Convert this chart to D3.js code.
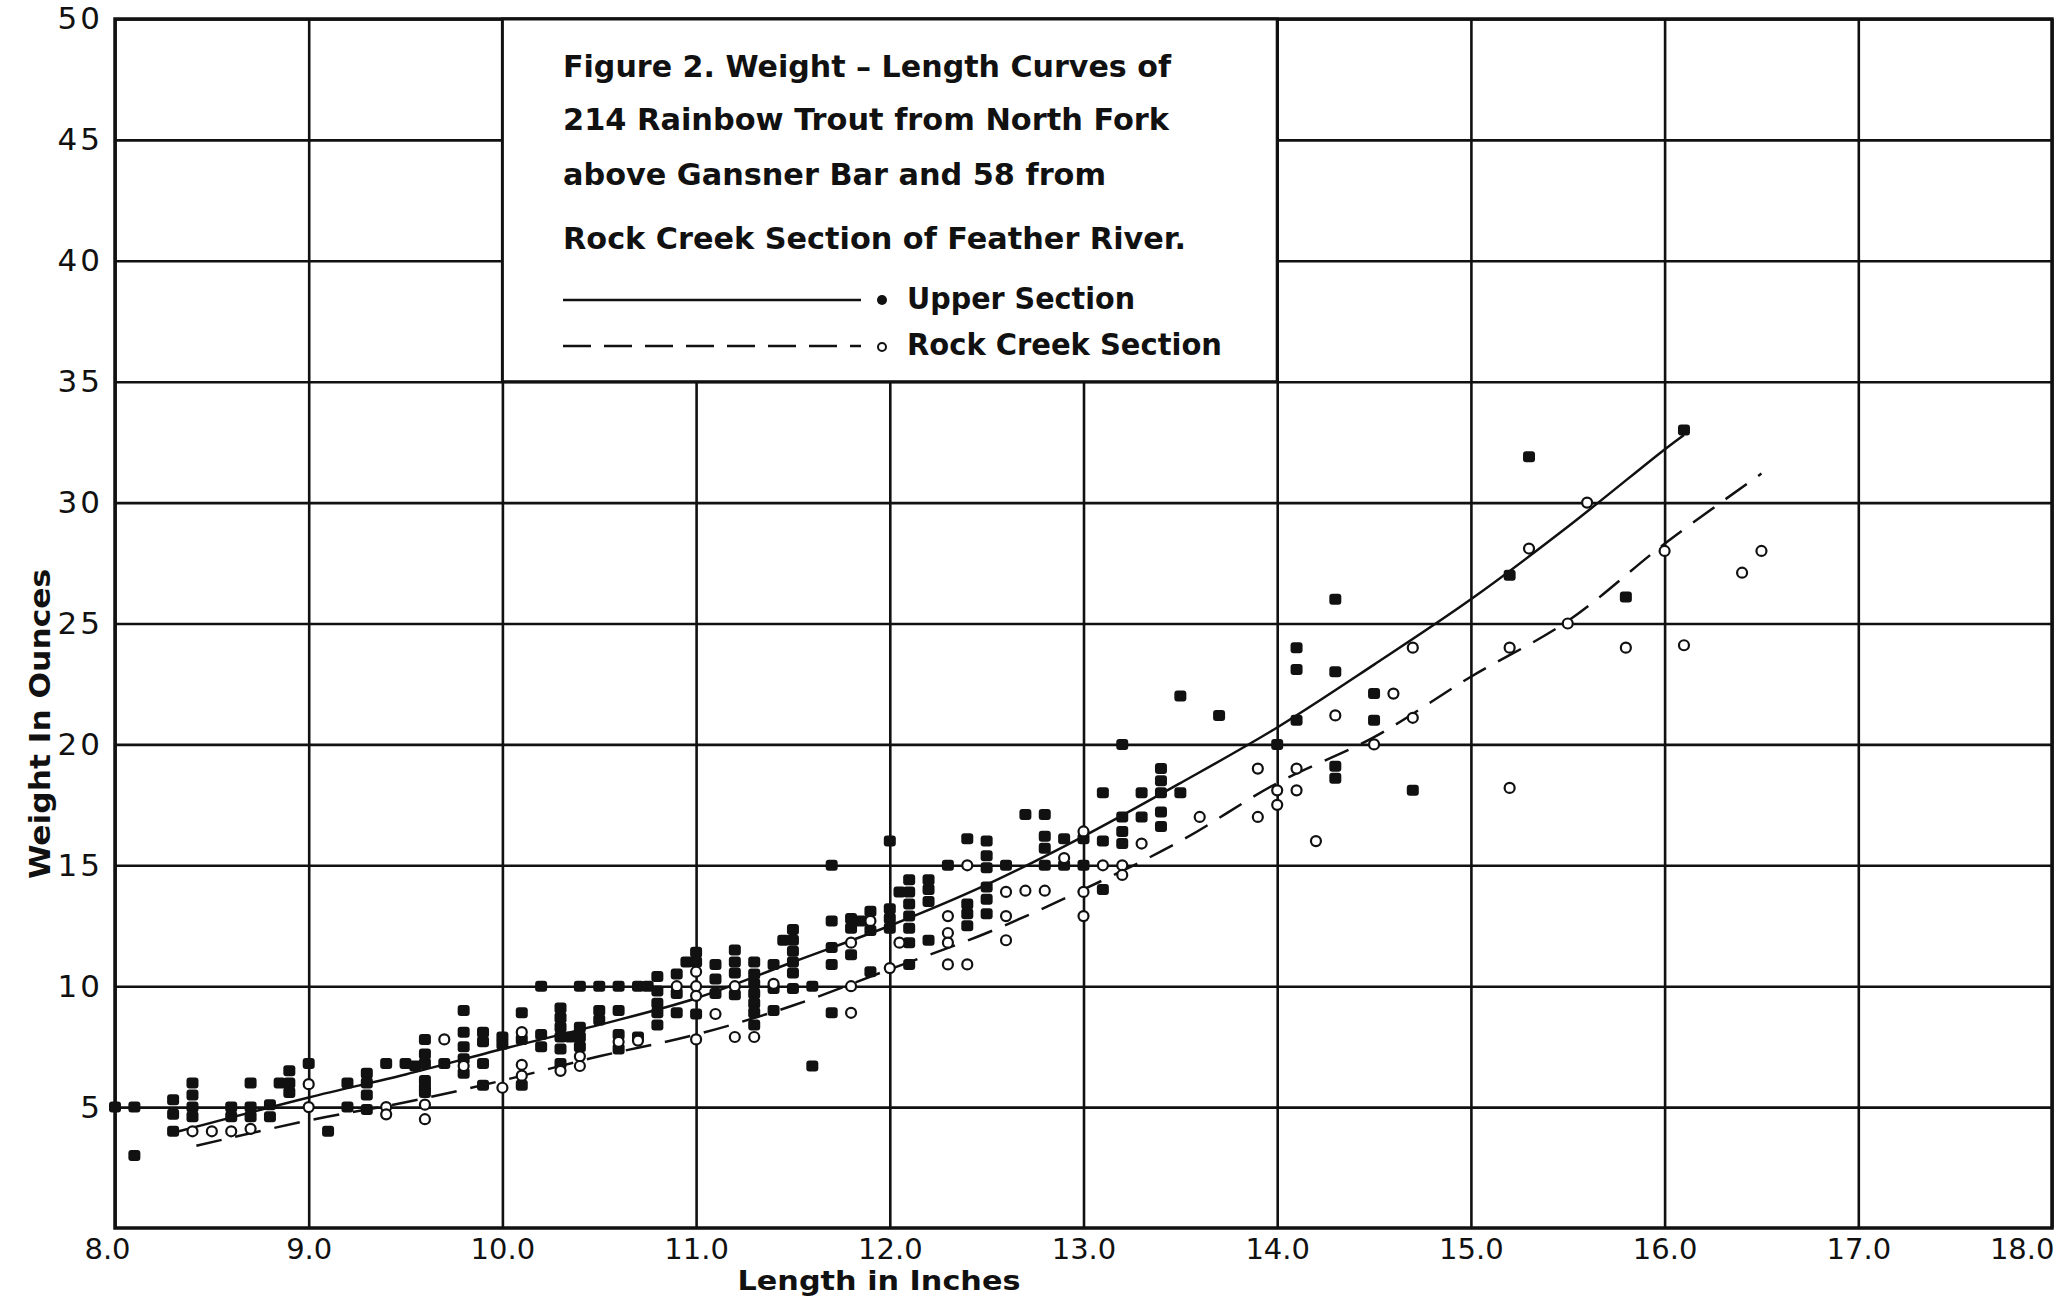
<!DOCTYPE html>
<html>
<head>
<meta charset="utf-8">
<script src="https://cdn.jsdelivr.net/npm/d3@7"></script>
<style>
  body { margin: 0; background: #fff; }
  text { font-family: "DejaVu Sans", sans-serif; fill: #111; }
</style>
</head>
<body>
<div id="container"></div>
<script>
let w = 2072;
let h = 1299;

// axis ticks
let xTicks = [8, 9, 10, 11, 12, 13, 14, 15, 16, 17, 18];
let yTicks = [5, 10, 15, 20, 25, 30, 35, 40, 45, 50];

let titleLines = [
  "Figure 2.  Weight – Length Curves of",
  "214  Rainbow  Trout  from  North  Fork",
  "above  Gansner  Bar  and  58  from",
  "Rock  Creek  Section  of  Feather  River."
];
let legendLabels = ["Upper  Section", "Rock  Creek  Section"];

// [length in inches, weight in ounces]
let upperSection = [
  [8.0,5.0],[8.1,5.0],[8.1,3.0],[8.3,5.3],[8.3,4.7],[8.3,4.0],
  [8.4,6.0],[8.4,5.5],[8.4,5.0],[8.4,4.6],[8.6,5.0],[8.6,4.6],
  [8.7,6.0],[8.7,5.0],[8.7,4.6],[8.8,5.1],[8.8,4.6],[8.85,6.0],
  [8.9,6.0],[8.9,6.5],[8.9,5.6],[9.0,6.8],[9.1,4.0],[9.2,6.0],
  [9.2,5.0],[9.3,6.4],[9.3,6.0],[9.3,5.5],[9.3,4.9],[9.4,6.8],
  [9.5,6.8],[9.55,6.7],[9.6,7.8],[9.6,7.2],[9.6,6.8],[9.6,6.1],
  [9.6,5.8],[9.6,5.6],[9.7,6.8],[9.8,9.0],[9.8,8.1],[9.8,7.5],
  [9.8,7.0],[9.8,6.4],[9.9,8.1],[9.9,7.7],[9.9,6.8],[9.9,5.9],
  [10.0,7.9],[10.0,7.6],[10.1,8.9],[10.1,7.8],[10.1,5.9],[10.2,10.0],
  [10.2,8.0],[10.2,7.5],[10.3,9.1],[10.3,8.7],[10.3,8.3],[10.3,7.9],
  [10.3,7.4],[10.3,6.8],[10.35,7.9],[10.4,10.0],[10.4,8.3],[10.4,7.9],
  [10.4,7.5],[10.5,10.0],[10.5,9.0],[10.5,8.6],[10.6,10.0],[10.6,9.0],
  [10.6,8.0],[10.6,7.4],[10.7,10.0],[10.7,7.9],[10.75,10.0],[10.8,10.4],
  [10.8,9.8],[10.8,9.3],[10.8,8.9],[10.8,8.4],[10.9,10.5],[10.9,9.7],
  [10.9,8.9],[10.95,11.0],[11.0,11.4],[11.0,11.0],[11.0,8.85],[11.1,10.9],
  [11.1,10.3],[11.1,9.7],[11.2,11.5],[11.2,11.0],[11.2,10.55],[11.2,9.65],
  [11.3,11.0],[11.3,10.5],[11.3,10.1],[11.3,9.7],[11.3,9.3],[11.3,8.9],
  [11.3,8.4],[11.4,10.9],[11.4,9.9],[11.4,9.0],[11.45,11.9],[11.5,12.35],
  [11.5,11.9],[11.5,11.45],[11.5,11.0],[11.5,10.55],[11.5,9.9],[11.6,10.0],
  [11.6,6.7],[11.7,15.0],[11.7,12.7],[11.7,11.6],[11.7,10.9],[11.7,8.9],
  [11.8,12.8],[11.8,12.4],[11.8,11.3],[11.85,12.7],[11.9,13.1],[11.9,12.3],
  [11.9,10.6],[12.0,16.0],[12.0,13.2],[12.0,12.8],[12.0,12.4],[12.05,13.9],
  [12.1,14.4],[12.1,13.9],[12.1,13.4],[12.1,12.9],[12.1,12.4],[12.1,11.8],
  [12.1,10.9],[12.2,14.4],[12.2,14.0],[12.2,13.5],[12.2,11.9],[12.3,15.0],
  [12.4,16.1],[12.4,13.4],[12.4,13.0],[12.4,12.5],[12.5,16.0],[12.5,15.4],
  [12.5,14.9],[12.5,14.1],[12.5,13.6],[12.5,13.0],[12.6,15.0],[12.7,17.1],
  [12.8,17.1],[12.8,16.2],[12.8,15.7],[12.8,15.0],[12.9,16.1],[12.9,15.0],
  [13.0,16.1],[13.0,15.0],[13.1,18.0],[13.1,16.0],[13.1,14.0],[13.2,20.0],
  [13.2,17.0],[13.2,16.4],[13.2,15.9],[13.3,18.0],[13.3,17.0],[13.4,19.0],
  [13.4,18.5],[13.4,18.0],[13.4,17.2],[13.4,16.6],[13.5,22.0],[13.5,18.0],
  [13.7,21.2],[14.0,20.0],[14.1,24.0],[14.1,23.1],[14.1,21.0],[14.3,26.0],
  [14.3,23.0],[14.3,19.1],[14.3,18.6],[14.5,22.1],[14.5,21.0],[14.7,18.1],
  [15.2,27.0],[15.3,31.9],[15.8,26.1],[16.1,33.0]
];

let rockCreek = [
  [8.4,4.0],[8.5,4.0],[8.6,4.0],[8.7,4.1],[9.0,5.95],[9.0,5.0],
  [9.4,5.0],[9.4,4.7],[9.6,5.1],[9.6,4.5],[9.7,7.8],[9.8,6.7],
  [10.0,5.8],[10.1,8.1],[10.1,6.75],[10.1,6.3],[10.3,6.5],[10.4,7.1],
  [10.4,6.7],[10.6,7.7],[10.7,7.75],[10.9,10.0],[11.0,10.6],[11.0,10.0],
  [11.0,9.6],[11.0,7.8],[11.1,8.85],[11.2,10.0],[11.2,7.9],[11.3,7.9],
  [11.4,10.1],[11.8,11.8],[11.8,10.0],[11.8,8.9],[11.9,12.7],[12.0,10.75],
  [12.05,11.8],[12.3,12.9],[12.3,12.2],[12.3,11.8],[12.3,10.9],[12.4,15.0],
  [12.4,10.9],[12.6,13.9],[12.6,12.9],[12.6,11.9],[12.7,13.95],[12.8,13.95],
  [12.9,15.3],[13.0,16.4],[13.0,13.9],[13.0,12.9],[13.1,15.0],[13.2,15.0],
  [13.2,14.6],[13.3,15.9],[13.6,17.0],[13.9,19.0],[13.9,17.0],[14.0,18.1],
  [14.0,17.5],[14.1,19.0],[14.1,18.1],[14.2,16.0],[14.3,21.2],[14.5,20.0],
  [14.6,22.1],[14.7,24.0],[14.7,21.1],[15.2,24.0],[15.2,18.2],[15.3,28.1],
  [15.5,25.0],[15.6,30.0],[15.8,24.0],[16.0,28.0],[16.1,24.1],[16.4,27.1],
  [16.5,28.0]
];

// fitted curves
let upperCurve = [
  [8.33,4.0],[9.0,5.4],[9.5,6.35],[10.0,7.4],[10.5,8.4],[11.0,9.5],
  [11.5,11.0],[12.0,12.5],[12.5,14.2],[13.0,16.2],[13.5,18.4],[14.0,20.7],
  [14.5,23.3],[15.0,26.0],[15.5,29.0],[16.0,32.2],[16.1,32.8]
];
let rockCurve = [
  [8.42,3.4],[9.0,4.45],[9.5,5.2],[10.0,6.1],[10.5,7.1],[11.0,8.0],
  [11.5,9.2],[12.0,10.7],[12.5,12.2],[13.0,14.0],[13.5,16.0],[14.0,18.4],
  [14.5,20.3],[15.0,22.8],[15.5,25.1],[16.0,28.3],[16.5,31.2]
];

let viz = d3.select("#container")
  .append("svg")
    .attr("width", w)
    .attr("height", h)
    .style("background-color", "#fff")
;

let x = d3.scaleLinear().domain([8, 18]).range([115, 2052]);
let y = d3.scaleLinear().domain([0, 50]).range([1228, 19]);

// grid + tick labels through the axes
let xAxis = d3.axisBottom(x)
    .tickValues(xTicks)
    .tickFormat(d3.format(".1f"))
    .tickSize(-(y(0) - y(50)))
    .tickPadding(10);

let yAxis = d3.axisLeft(y)
    .tickValues(yTicks)
    .tickFormat(d => d)
    .tickSize(-(x(18) - x(8)))
    .tickPadding(12);

let gx = viz.append("g")
    .attr("transform", "translate(0," + y(0) + ")")
    .call(xAxis);
gx.select(".domain").remove();
gx.selectAll("line").attr("stroke", "#111").attr("stroke-width", 2.6);
gx.selectAll("text")
    .attr("fill", "#111")
    .style("font-size", "29px")
    .attr("dy", "0.71em")
    .attr("text-anchor", d => d === 18 ? "end" : "middle")
    .attr("x", d => d === 18 ? 2 : (d === 8 ? -8 : 0));

let gy = viz.append("g")
    .attr("transform", "translate(" + x(8) + ",0)")
    .call(yAxis);
gy.select(".domain").remove();
gy.selectAll("line").attr("stroke", "#111").attr("stroke-width", 2.6);
gy.selectAll("text")
    .attr("fill", "#111")
    .style("font-size", "31px")
    .style("letter-spacing", "3px");

// plot border
viz.append("rect")
    .attr("x", x(8))
    .attr("y", y(50))
    .attr("width", x(18) - x(8))
    .attr("height", y(0) - y(50))
    .attr("fill", "none")
    .attr("stroke", "#111")
    .attr("stroke-width", 3.5)
;

// title / legend box sits on the grid from 10 to 14 inches, 35 to 50 oz
viz.append("rect")
    .attr("x", x(10))
    .attr("y", y(50))
    .attr("width", x(14) - x(10))
    .attr("height", y(35) - y(50))
    .attr("fill", "#fff")
    .attr("stroke", "#111")
    .attr("stroke-width", 3)
;

let titleBase = [77, 130, 185, 249];
let titleLen = [608, 606, 543, 623];
viz.selectAll(".title").data(titleLines).enter()
  .append("text")
    .attr("class", "title")
    .attr("x", 563)
    .attr("y", (d, i) => titleBase[i])
    .attr("textLength", (d, i) => titleLen[i])
    .attr("lengthAdjust", "spacingAndGlyphs")
    .style("font-size", "30px")
    .style("font-weight", "bold")
    .text(d => d)
;

// legend rows
viz.append("line")
    .attr("x1", 563).attr("x2", 861)
    .attr("y1", 300).attr("y2", 300)
    .attr("stroke", "#111").attr("stroke-width", 2.5);
viz.append("circle")
    .attr("cx", 882).attr("cy", 300).attr("r", 5)
    .attr("fill", "#111");
viz.append("line")
    .attr("x1", 563).attr("x2", 861)
    .attr("y1", 346).attr("y2", 346)
    .attr("stroke", "#111").attr("stroke-width", 2.5)
    .attr("stroke-dasharray", "28,13");
viz.append("circle")
    .attr("cx", 882).attr("cy", 347).attr("r", 4)
    .attr("fill", "#fff").attr("stroke", "#111").attr("stroke-width", 2);

let legendBase = [309, 355];
let legendLen = [228, 315];
viz.selectAll(".legendLabel").data(legendLabels).enter()
  .append("text")
    .attr("class", "legendLabel")
    .attr("x", 907)
    .attr("y", (d, i) => legendBase[i])
    .attr("textLength", (d, i) => legendLen[i])
    .attr("lengthAdjust", "spacingAndGlyphs")
    .style("font-size", "30px")
    .style("font-weight", "bold")
    .text(d => d)
;

// axis titles
viz.append("text")
    .attr("x", 879)
    .attr("y", 1290)
    .attr("text-anchor", "middle")
    .attr("textLength", 283)
    .attr("lengthAdjust", "spacingAndGlyphs")
    .style("font-size", "27px")
    .style("font-weight", "bold")
    .text("Length  in  Inches")
;
viz.append("text")
    .attr("transform", "translate(50,724) rotate(-90)")
    .attr("text-anchor", "middle")
    .attr("textLength", 310)
    .attr("lengthAdjust", "spacingAndGlyphs")
    .style("font-size", "29px")
    .style("font-weight", "bold")
    .text("Weight  In  Ounces")
;

// curves
let line = d3.line()
    .x(d => x(d[0]))
    .y(d => y(d[1]))
    .curve(d3.curveCatmullRom.alpha(0.5));

viz.append("path")
    .attr("d", line(upperCurve))
    .attr("fill", "none")
    .attr("stroke", "#111")
    .attr("stroke-width", 2.5)
;
viz.append("path")
    .attr("d", line(rockCurve))
    .attr("fill", "none")
    .attr("stroke", "#111")
    .attr("stroke-width", 2.5)
    .attr("stroke-dasharray", "26,14")
;

// points
viz.selectAll(".upper").data(upperSection).enter()
  .append("rect")
    .attr("class", "upper")
    .attr("x", d => x(d[0]) - 6)
    .attr("y", d => y(d[1]) - 5.5)
    .attr("width", 12)
    .attr("height", 11)
    .attr("rx", 3)
    .attr("fill", "#111")
;
viz.selectAll(".rock").data(rockCreek).enter()
  .append("circle")
    .attr("class", "rock")
    .attr("cx", d => x(d[0]))
    .attr("cy", d => y(d[1]))
    .attr("r", 5)
    .attr("fill", "#fff")
    .attr("stroke", "#111")
    .attr("stroke-width", 2.2)
;
</script>
</body>
</html>
